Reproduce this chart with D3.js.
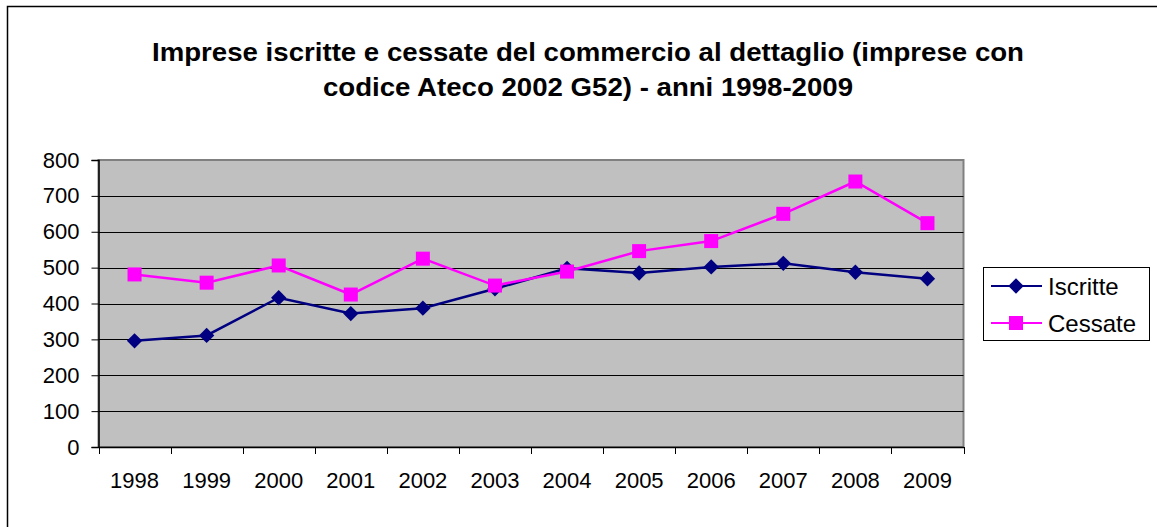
<!DOCTYPE html>
<html>
<head>
<meta charset="utf-8">
<script src="https://cdn.jsdelivr.net/npm/d3@7"></script>
<style>
  html, body { margin: 0; padding: 0; background: #fff; }
  svg { display: block; font-family: "Liberation Sans", Arial, sans-serif; }
</style>
</head>
<body>
<svg id="chart" width="1157" height="527"></svg>
<script>
// Anni e serie
const years = ["1998", "1999", "2000", "2001", "2002", "2003", "2004", "2005", "2006", "2007", "2008", "2009"];
const iscritte = [296, 311, 416, 372, 387, 441, 498, 485, 502, 512, 487, 469];
const cessate = [481, 458, 506, 425, 525, 450, 489, 546, 574, 650, 740, 624];
const yTicks = [0, 100, 200, 300, 400, 500, 600, 700, 800];
const seriesNames = ["Iscritte", "Cessate"];
const titleLines = [
  "Imprese iscritte e cessate del commercio al dettaglio (imprese con",
  "codice Ateco 2002 G52) - anni 1998-2009"
];
const titleWidths = [872, 530];

const svg = d3.select("#chart");

// Cornice esterna (solo lati sinistro e superiore visibili)
svg.append("path")
  .attr("d", "M7.5,527 V6.5 H1157")
  .attr("fill", "none").attr("stroke", "#000").attr("stroke-width", 1.5);

// Titolo
svg.append("g").selectAll("text").data(titleLines).join("text")
  .attr("x", 588).attr("y", (d, i) => 61 + i * 35)
  .attr("text-anchor", "middle")
  .attr("font-weight", "bold").attr("font-size", 25)
  .attr("textLength", (d, i) => titleWidths[i])
  .attr("lengthAdjust", "spacingAndGlyphs")
  .text(d => d);

const plot = { left: 98.5, right: 963.5, top: 160, bottom: 447 };

const x = d3.scaleBand().domain(years).range([plot.left, plot.right]);
const y = d3.scaleLinear().domain([0, 800]).range([plot.bottom, plot.top]);

// Area del grafico
svg.append("rect")
  .attr("x", plot.left).attr("y", plot.top)
  .attr("width", plot.right - plot.left).attr("height", plot.bottom - plot.top)
  .attr("fill", "#c0c0c0").attr("stroke", "#808080").attr("stroke-width", 2);

// Griglia orizzontale
svg.append("g").selectAll("line").data(yTicks.filter(v => v > 0 && v < 800)).join("line")
  .attr("x1", plot.left).attr("x2", plot.right)
  .attr("y1", d => Math.round(y(d)) + 0.5).attr("y2", d => Math.round(y(d)) + 0.5)
  .attr("stroke", "#000").attr("stroke-width", 1);

// Asse Y
const yAxis = svg.append("g")
  .attr("transform", `translate(${plot.left},0)`)
  .call(d3.axisLeft(y).tickValues(yTicks).tickSize(7).tickPadding(12).tickFormat(d3.format("d")));
yAxis.select(".domain").attr("stroke", "#000").attr("stroke-width", 1.5);
yAxis.selectAll(".tick line").attr("stroke", "#000");
yAxis.selectAll("text").attr("font-size", 22).attr("fill", "#000")
  .attr("font-family", "Liberation Sans, Arial, sans-serif");

// Asse X con tacche tra le categorie
const xAxis = svg.append("g")
  .attr("transform", `translate(0,${plot.bottom})`)
  .call(d3.axisBottom(x).tickSize(0).tickPadding(25));
xAxis.select(".domain").attr("stroke", "#000").attr("stroke-width", 1.5);
xAxis.selectAll("text").attr("font-size", 22).attr("fill", "#000")
  .attr("font-family", "Liberation Sans, Arial, sans-serif");
const edges = years.map(d => x(d)).concat([x.range()[1]]);
xAxis.append("g").selectAll("line").data(edges).join("line")
  .attr("x1", d => Math.round(d) + 0.5).attr("x2", d => Math.round(d) + 0.5)
  .attr("y1", 0).attr("y2", 7)
  .attr("stroke", "#000").attr("stroke-width", 1);

const cx = d => x(d) + x.bandwidth() / 2;

const lineGen = values => d3.line()
  .x((v, i) => cx(years[i]))
  .y(v => y(v))(values);

const diamond = d3.symbol().type(d3.symbolDiamond2).size(150);

function drawSeries(values, color, marker) {
  svg.append("path")
    .attr("d", lineGen(values))
    .attr("fill", "none").attr("stroke", color).attr("stroke-width", 2.5);
  const g = svg.append("g");
  if (marker === "diamond") {
    g.selectAll("path").data(values).join("path")
      .attr("d", diamond)
      .attr("transform", (v, i) => `translate(${cx(years[i])},${y(v)})`)
      .attr("fill", color);
  } else {
    g.selectAll("rect").data(values).join("rect")
      .attr("x", (v, i) => cx(years[i]) - 7).attr("y", v => y(v) - 7)
      .attr("width", 14).attr("height", 14)
      .attr("fill", color);
  }
}

drawSeries(iscritte, "#000080", "diamond");
drawSeries(cessate, "#ff00ff", "square");

// Legenda
const legend = svg.append("g");
legend.append("rect")
  .attr("x", 983.5).attr("y", 267.5).attr("width", 166).attr("height", 73)
  .attr("fill", "#fff").attr("stroke", "#000").attr("stroke-width", 1);
const legendColors = ["#000080", "#ff00ff"];
seriesNames.forEach((name, i) => {
  const ly = 286 + i * 37;
  legend.append("line")
    .attr("x1", 991).attr("x2", 1042).attr("y1", ly).attr("y2", ly)
    .attr("stroke", legendColors[i]).attr("stroke-width", 2);
  if (i === 0) {
    legend.append("path").attr("d", diamond)
      .attr("transform", `translate(1016,${ly})`).attr("fill", legendColors[i]);
  } else {
    legend.append("rect").attr("x", 1009).attr("y", ly - 7)
      .attr("width", 14).attr("height", 14).attr("fill", legendColors[i]);
  }
  legend.append("text")
    .attr("x", 1048).attr("y", ly + 8.5)
    .attr("font-size", 24).attr("fill", "#000")
    .text(name);
});
</script>
</body>
</html>
